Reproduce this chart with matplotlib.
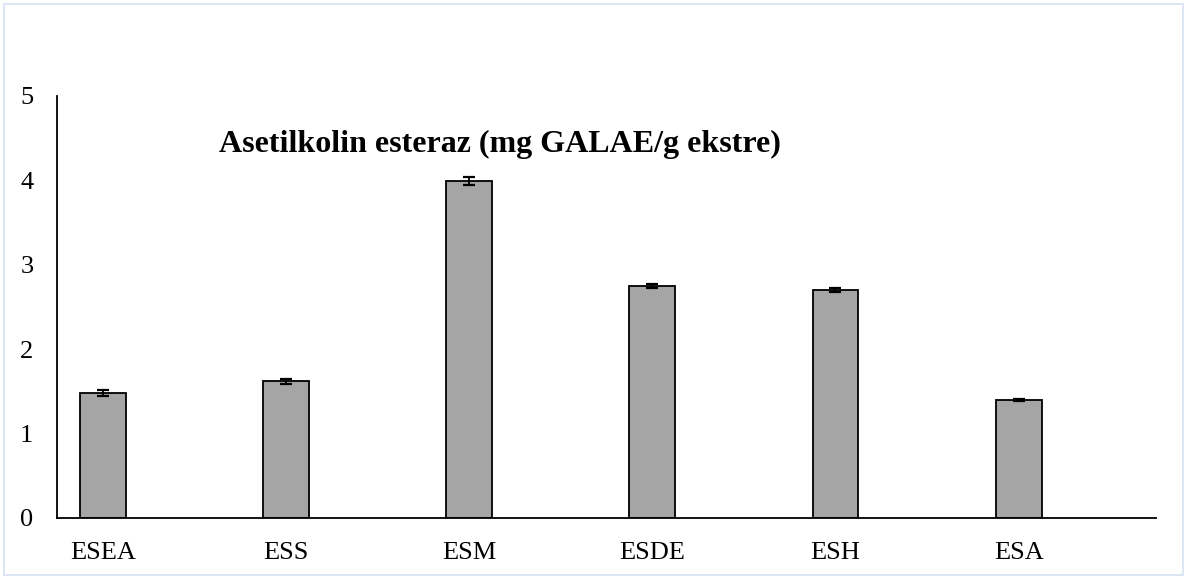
import matplotlib.pyplot as plt
from matplotlib.patches import Rectangle

categories = ["ESEA", "ESS", "ESM", "ESDE", "ESH", "ESA"]
values = [1.48, 1.62, 3.99, 2.75, 2.70, 1.40]
errors = [0.04, 0.03, 0.05, 0.025, 0.02, 0.015]
title = "Asetilkolin esteraz (mg GALAE/g ekstre)"
yticks = [0, 1, 2, 3, 4, 5]

plt.rcParams["font.family"] = ["Liberation Serif", "DejaVu Serif"]

fig = plt.figure(figsize=(11.87, 5.78), dpi=100)
ax = fig.add_axes([57 / 1187, 60 / 578, 1099 / 1187, 422 / 578])

x = range(len(categories))
ax.bar(x, values, width=0.25, color="#A5A5A5", edgecolor="black", linewidth=1.3,
       yerr=errors, capsize=4.5,
       error_kw=dict(ecolor="black", elinewidth=1.3, capthick=1.6))

ax.set_xlim(-0.25, 5.75)
ax.set_ylim(0, 5)
ax.set_yticks(yticks)
ax.set_xticks(list(x))
ax.set_xticklabels(categories)
ax.tick_params(axis="both", length=0, labelsize=19)
ax.tick_params(axis="x", pad=17)
ax.tick_params(axis="y", pad=17)
for s in ["top", "right"]:
    ax.spines[s].set_visible(False)
for s in ["left", "bottom"]:
    ax.spines[s].set_linewidth(1.3)

ax.text(0.403, 0.886, title, transform=ax.transAxes, ha="center", va="center",
        fontsize=23, fontweight="bold")

fig.patches.append(Rectangle((4 / 1187, 3 / 578), 1179 / 1187, 571 / 578,
                             transform=fig.transFigure, fill=False,
                             edgecolor="#D6E2F4", linewidth=1.2))

fig.savefig("out.png", dpi=100)
